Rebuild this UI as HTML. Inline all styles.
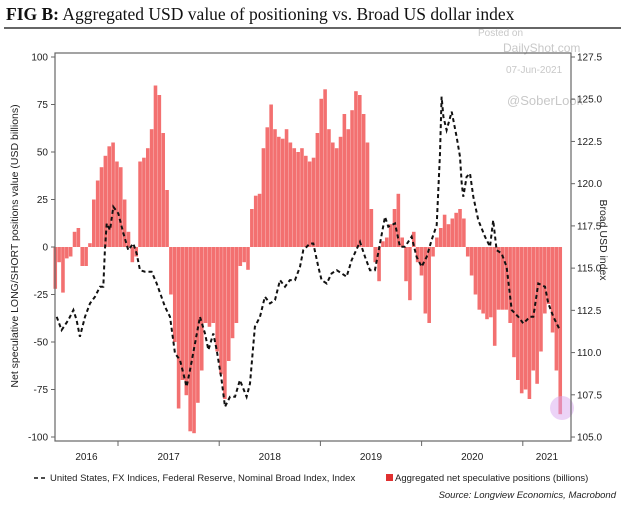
<!DOCTYPE html>
<html><head><meta charset="utf-8"><style>
body{margin:0;background:#fff;}
svg{display:block;font-family:"Liberation Sans",Arial,sans-serif;}
</style></head><body>
<svg id="chart" width="624" height="507" viewBox="0 0 624 507">
<text x="6" y="20" font-family="Liberation Serif,serif" font-size="17.5" fill="#111"><tspan font-weight="bold">FIG B:</tspan> Aggregated USD value of positioning vs. Broad US dollar index</text>
<line x1="4" y1="28" x2="621" y2="28" stroke="#333" stroke-width="1.5"/>
<g fill="#c8c8c8" font-size="10">
<text x="478" y="36">Posted on</text>
<text x="503" y="52" font-size="12">DailyShot.com</text>
<text x="506" y="73">07-Jun-2021</text>
<text x="507" y="105" font-size="13">@SoberLook</text>
</g>
<g id="plot"></g>
<g id="axes"></g>
<text transform="translate(18,246) rotate(-90)" text-anchor="middle" font-size="10.5" fill="#222">Net speculative LONG/SHORT positions value (USD billions)</text>
<text transform="translate(600,240) rotate(90)" text-anchor="middle" font-size="10.5" fill="#222">Broad USD index</text>
<g font-size="9.5" fill="#222">
<line x1="34" y1="478" x2="48" y2="478" stroke="#111" stroke-width="1.5" stroke-dasharray="4,3"/>
<text x="50" y="481">United States, FX Indices, Federal Reserve, Nominal Broad Index, Index</text>
<rect x="386" y="474" width="7" height="7" fill="#e03030"/>
<text x="395" y="481">Aggregated net speculative positions (billions)</text>
</g>
<text x="616" y="498" text-anchor="end" font-size="9.5" font-style="italic" fill="#222">Source: Longview Economics, Macrobond</text>
</svg>
<script>
const barStart = 2016.38;
const barEnd = 2021.37;
const barValues = [-22,-8,-24,-6,-5,8,10,-10,-10,2,25,35,42,48,53,55,45,42,25,8,-8,-5,45,47,52,62,85,80,60,30,-25,-50,-85,-70,-78,-97,-98,-82,-65,-40,-42,-40,-55,-67,-80,-60,-48,-40,-10,-8,-12,20,27,28,52,63,75,62,58,57,62,55,52,50,52,48,
45,47,60,78,83,62,55,52,58,70,62,72,82,80,70,55,20,-8,-18,3,5,12,20,28,5,-18,-28,8,-8,-15,-35,-40,-5,5,10,17,12,15,18,20,15,-5,-15,-25,-33,-35,-38,-37,-52,-33,-33,-33,-40,-58,-70,-77,-75,-80,-65,-72,-55,-35,-30,-45,-65,-88];
const lineDates = [2016.394,2016.443,2016.509,2016.559,2016.591,2016.624,2016.674,2016.723,2016.773,2016.822,2016.855,2016.871,2016.888,2016.921,2016.954,2017.003,2017.053,2017.102,2017.151,2017.184,2017.217,2017.267,2017.332,2017.382,2017.464,2017.514,2017.563,2017.613,2017.678,2017.711,2017.761,2017.810,2017.860,2017.893,2017.942,2017.975,2018.024,2018.057,2018.107,2018.156,2018.205,2018.271,2018.304,2018.353,2018.403,2018.452,2018.502,2018.551,2018.601,2018.650,2018.699,2018.749,2018.798,2018.831,2018.897,2018.930,2018.979,2019.012,2019.062,2019.111,2019.161,2019.210,2019.259,2019.309,2019.391,2019.441,2019.490,2019.539,2019.589,2019.638,2019.671,2019.737,2019.786,2019.836,2019.901,2019.951,2020.000,2020.050,2020.099,2020.149,2020.182,2020.198,2020.215,2020.247,2020.297,2020.346,2020.379,2020.396,2020.412,2020.445,2020.478,2020.511,2020.560,2020.626,2020.676,2020.708,2020.741,2020.791,2020.840,2020.890,2020.956,2021.005,2021.071,2021.104,2021.153,2021.219,2021.252,2021.302,2021.367];
const lineValues = [112.12,111.33,111.92,112.52,111.92,110.94,112.12,112.91,113.31,113.9,113.9,116.07,117.65,117.25,118.63,118.24,117.06,116.07,116.46,115.87,114.88,114.79,114.79,114.09,112.71,112.12,109.95,109.56,107.98,108.96,110.54,112.12,111.13,110.15,111.13,110.15,108.37,106.79,107.38,107.38,108.37,107.38,108.17,111.53,112.12,113.31,112.91,113.11,114.29,113.9,114.29,114.29,115.08,116.07,116.46,116.46,115.08,114.29,114.09,114.69,114.88,114.69,114.49,115.48,116.56,115.67,114.88,114.88,116.46,118.04,117.45,117.65,116.27,116.27,116.86,115.67,115.08,115.67,116.66,117.55,121.79,125.15,123.96,123.17,124.26,122.78,121.6,120.02,119.23,120.41,120.61,119.23,117.84,116.86,116.27,117.84,116.07,115.87,115.08,112.52,112.12,111.73,112.12,112.12,114.09,113.9,112.91,112.12,111.33];
const leftTicks = [100,75,50,25,0,-25,-50,-75,-100];
const rightTicks = [127.5,125.0,122.5,120.0,117.5,115.0,112.5,110.0,107.5,105.0];
const yearLabels = ["2016","2017","2018","2019","2020","2021"];
const yearStarts = [2016,2017,2018,2019,2020,2021,2022];

const NS="http://www.w3.org/2000/svg";
const X0=55,X1=571,Y0=53,Y1=441;
function xs(t){return 16.8+(t-2016)*101.2;}
function yl(v){return 247-v*1.9;}
function yr(v){return 57+(127.5-v)*16.89;}
function mk(tag,attrs,parent){const e=document.createElementNS(NS,tag);for(const k in attrs)e.setAttribute(k,attrs[k]);parent.appendChild(e);return e;}
const plot=document.getElementById('plot'),axes=document.getElementById('axes');
const n=barValues.length,step=(barEnd-barStart)/(n-1),bw=step*101.2*0.93;
barValues.forEach((v,i)=>{
  const cx=xs(barStart+i*step);
  const y=Math.min(yl(v),yl(0)),h=Math.abs(yl(v)-yl(0));
  const r=mk('rect',{x:cx-bw/2,y:y,width:bw,height:Math.max(h,0.5),fill:'#f37070'},plot);
  
  
});
let d='';
lineDates.forEach((t,i)=>{d+=(i?'L':'M')+xs(t).toFixed(1)+','+yr(lineValues[i]).toFixed(1);});
const ln=mk('path',{d:d,fill:'none',stroke:'#111','stroke-width':2,'stroke-dasharray':'4,3'},plot);


const c=mk('circle',{cx:562,cy:408,r:12,fill:'#d9a8f0','fill-opacity':0.5},plot);


const box=mk('rect',{x:X0,y:Y0,width:X1-X0,height:Y1-Y0,fill:'none',stroke:'#666','stroke-width':1.2},axes);


leftTicks.forEach(v=>{
  mk('line',{x1:X0-4,x2:X0,y1:yl(v),y2:yl(v),stroke:'#666'},axes);
  const t=mk('text',{x:X0-7,y:yl(v)+3.5,'text-anchor':'end','font-size':10,fill:'#222'},axes);
  t.textContent=String(v);
  
  
});
rightTicks.forEach(v=>{
  mk('line',{x1:X1,x2:X1+4,y1:yr(v),y2:yr(v),stroke:'#666'},axes);
  const t=mk('text',{x:X1+6,y:yr(v)+3.5,'font-size':10,fill:'#222'},axes);
  t.textContent=v.toFixed(1);
  
  
});
yearStarts.forEach((y,i)=>{
  const x=xs(y);
  if(x>X0&&x<X1) mk('line',{x1:x,x2:x,y1:Y1,y2:Y1+5,stroke:'#666'},axes);
  if(i<yearLabels.length){
    const lx=(Math.max(x,X0)+Math.min(xs(y+1),X1))/2;
    const t=mk('text',{x:lx,y:460,'text-anchor':'middle','font-size':10,fill:'#222'},axes);
    t.textContent=yearLabels[i];
    
    
  }
});
</script>
</body></html>
